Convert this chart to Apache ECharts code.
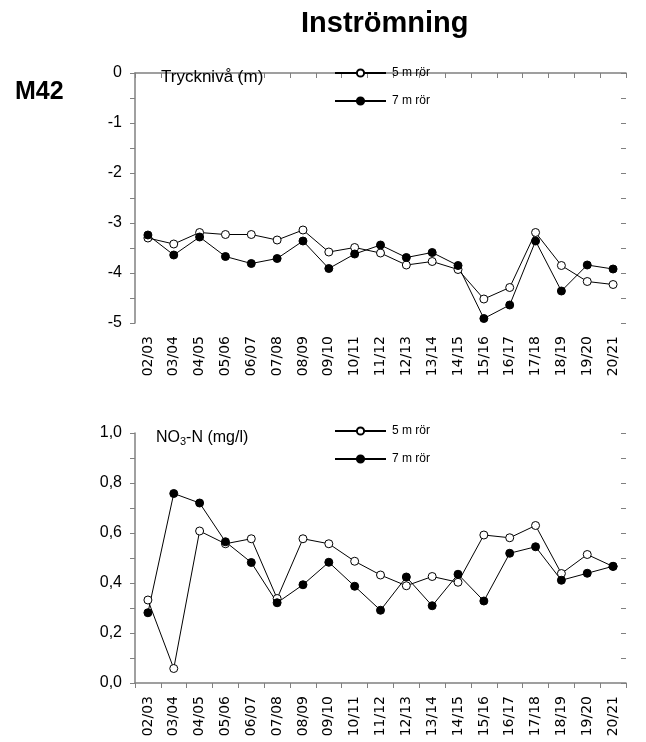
<!DOCTYPE html>
<html>
<head>
<meta charset="utf-8">
<script src="https://cdn.jsdelivr.net/npm/echarts@6/dist/echarts.min.js"></script>
<style>
  html, body { margin: 0; padding: 0; background: #fff; }
  #main { width: 646px; height: 742px; }
</style>
</head>
<body>
<div id="main"></div>
<script>
// kategorier (år)
var years = ['02/03', '03/04', '04/05', '05/06', '06/07', '07/08', '08/09', '09/10', '10/11', '11/12',
             '12/13', '13/14', '14/15', '15/16', '16/17', '17/18', '18/19', '19/20', '20/21'];

// Trycknivå (m)
var tryck5 = [-3.30, -3.42, -3.19, -3.23, -3.23, -3.34, -3.14, -3.58, -3.49, -3.60,
              -3.84, -3.77, -3.93, -4.52, -4.29, -3.19, -3.85, -4.17, -4.23];
var tryck7 = [-3.24, -3.64, -3.28, -3.67, -3.81, -3.71, -3.36, -3.91, -3.62, -3.44,
              -3.69, -3.59, -3.85, -4.91, -4.64, -3.36, -4.36, -3.84, -3.92];

// NO3-N (mg/l)
var no3_5 = [0.332, 0.058, 0.608, 0.557, 0.577, 0.338, 0.577, 0.557, 0.487, 0.432,
             0.389, 0.426, 0.403, 0.592, 0.581, 0.630, 0.438, 0.514, 0.466];
var no3_7 = [0.281, 0.758, 0.720, 0.565, 0.482, 0.321, 0.393, 0.483, 0.387, 0.291,
             0.424, 0.309, 0.435, 0.328, 0.519, 0.545, 0.411, 0.439, 0.467];

var chart = echarts.init(document.getElementById('main'));
var axisGrey = '#808080';
var font = 'Liberation Sans, Arial, sans-serif';

function xAx(gi) {
    return {
        type: 'category', gridIndex: gi, data: years, boundaryGap: true,
        axisLine: { lineStyle: { color: axisGrey, width: 1.5 } },
        axisTick: { show: true, length: 5, lineStyle: { color: axisGrey } },
        axisLabel: { rotate: 90, margin: 13, fontSize: 14, color: '#000', fontFamily: 'DejaVu Sans, sans-serif', interval: 0 }
    };
}

function yAx(gi, min, max, interval, fmt, right) {
    return {
        type: 'value', gridIndex: gi, min: min, max: max, interval: interval,
        position: right ? 'right' : 'left',
        splitLine: { show: false },
        axisLine: { show: !right, lineStyle: { color: axisGrey, width: 1.5 } },
        axisTick: { show: true, inside: !!right, length: 5, lineStyle: { color: axisGrey } },
        minorTick: { show: true, splitNumber: 2, length: 5, lineStyle: { color: axisGrey } },
        axisLabel: { show: !right, margin: 13, fontSize: 16, color: '#000', fontFamily: font, formatter: fmt }
    };
}

function serie(name, data, gi, open) {
    return {
        name: name, type: 'line', data: data, xAxisIndex: gi, yAxisIndex: gi * 2,
        symbol: 'circle', symbolSize: 8,
        lineStyle: { color: '#000', width: 1 },
        itemStyle: open ? { color: '#fff', borderColor: '#000', borderWidth: 1 }
                        : { color: '#000', borderColor: '#000', borderWidth: 1 },
        animation: false
    };
}

function legend(top) {
    return {
        orient: 'vertical', left: 329, top: top, itemWidth: 51, itemHeight: 9, itemGap: 16,
        data: ['5 m rör', '7 m rör'],
        textStyle: { fontSize: 12, color: '#000', fontFamily: font, padding: [0, 0, 0, 1] }
    };
}

var option = {
    backgroundColor: '#fff',
    animation: false,
    title: [
        { text: 'Inströmning', left: 296, top: 4, textStyle: { fontSize: 29, fontWeight: 'bold', color: '#000', fontFamily: font } },
        { text: 'M42', left: 10, top: 75, textStyle: { fontSize: 25, fontWeight: 'bold', color: '#000', fontFamily: font } },
        { text: 'Trycknivå (m)', left: 156, top: 64, textStyle: { fontSize: 17, fontWeight: 'normal', color: '#000', fontFamily: font } },
        { text: '{a|NO}{s|3}{a|-N (mg/l)}', left: 151, top: 423,
          textStyle: { rich: {
              a: { fontSize: 16, fontWeight: 'normal', color: '#000', fontFamily: font },
              s: { fontSize: 11, fontWeight: 'normal', color: '#000', fontFamily: font, padding: [8, 0, 0, 0] }
          } } }
    ],
    legend: [legend(62), legend(420)],
    grid: [
        { left: 135, right: 20, top: 73, height: 250 },
        { left: 135, right: 20, top: 433, height: 250 }
    ],
    xAxis: [xAx(0), xAx(1)],
    yAxis: [
        yAx(0, -5, 0, 1, function (v) { return String(v); }, false),
        yAx(0, -5, 0, 1, null, true),
        yAx(1, 0, 1, 0.2, function (v) { return v.toFixed(1).replace('.', ','); }, false),
        yAx(1, 0, 1, 0.2, null, true)
    ],
    series: [
        serie('5 m rör', tryck5, 0, true),
        serie('7 m rör', tryck7, 0, false),
        serie('5 m rör', no3_5, 1, true),
        serie('7 m rör', no3_7, 1, false)
    ]
};

chart.setOption(option);
</script>
</body>
</html>
